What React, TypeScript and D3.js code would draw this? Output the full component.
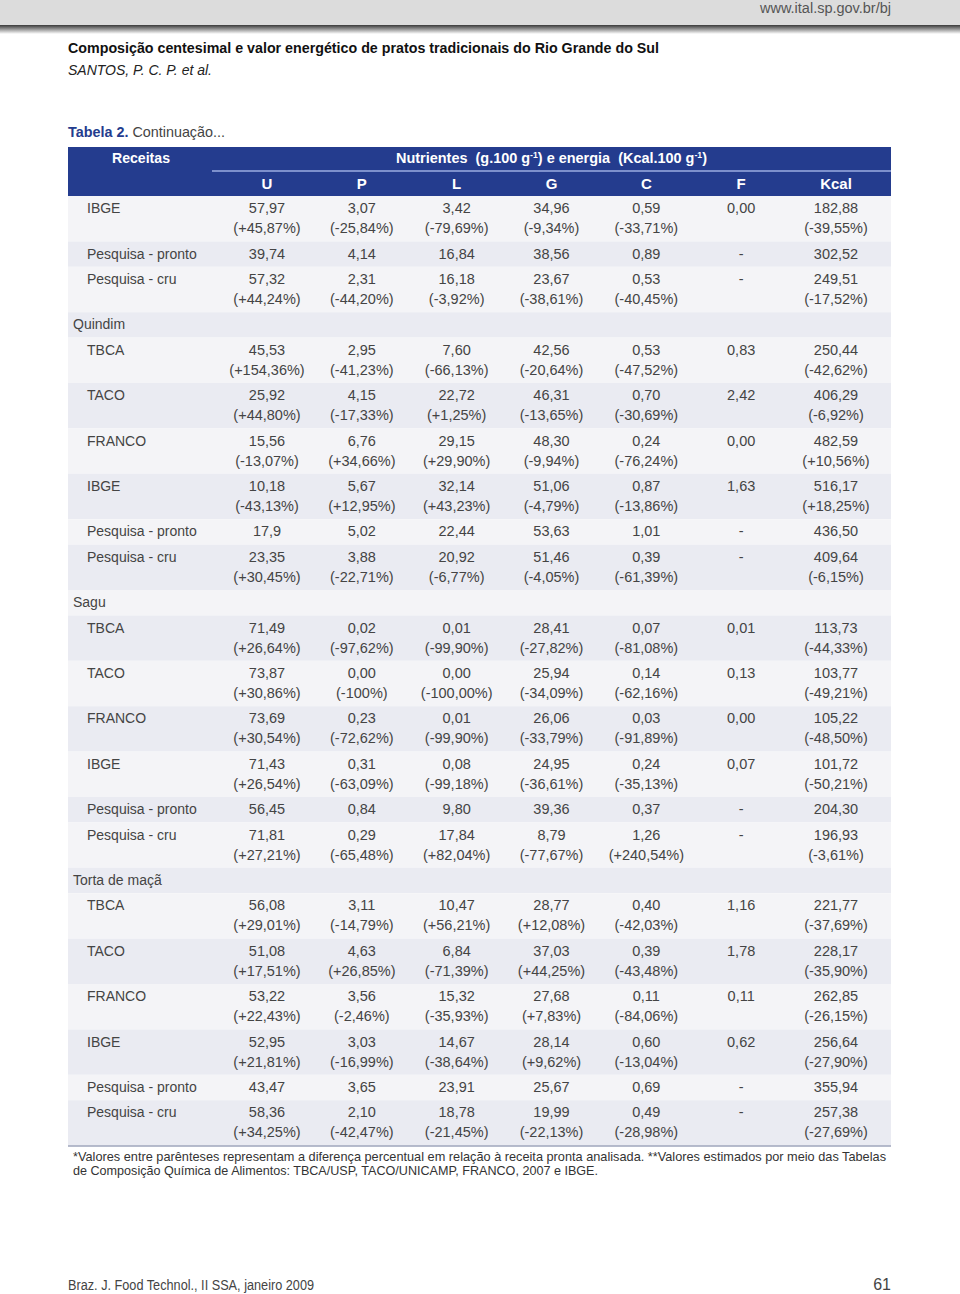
import { useEffect, useRef } from 'react';
import * as d3 from 'd3';

// column headers
const columns = ['U', 'P', 'L', 'G', 'C', 'F', 'Kcal'];

// row labels, group flag (recipe name) and values
const rowLabels = [
  'IBGE', 'Pesquisa - pronto', 'Pesquisa - cru',
  'Quindim', 'TBCA', 'TACO', 'FRANCO', 'IBGE', 'Pesquisa - pronto', 'Pesquisa - cru',
  'Sagu', 'TBCA', 'TACO', 'FRANCO', 'IBGE', 'Pesquisa - pronto', 'Pesquisa - cru',
  'Torta de maçã', 'TBCA', 'TACO', 'FRANCO', 'IBGE', 'Pesquisa - pronto', 'Pesquisa - cru'
];
const groupRows = ['Quindim', 'Sagu', 'Torta de maçã'];

const values: string[][] = [
  ['57,97', '3,07', '3,42', '34,96', '0,59', '0,00', '182,88'],
  ['39,74', '4,14', '16,84', '38,56', '0,89', '-', '302,52'],
  ['57,32', '2,31', '16,18', '23,67', '0,53', '-', '249,51'],
  [],
  ['45,53', '2,95', '7,60', '42,56', '0,53', '0,83', '250,44'],
  ['25,92', '4,15', '22,72', '46,31', '0,70', '2,42', '406,29'],
  ['15,56', '6,76', '29,15', '48,30', '0,24', '0,00', '482,59'],
  ['10,18', '5,67', '32,14', '51,06', '0,87', '1,63', '516,17'],
  ['17,9', '5,02', '22,44', '53,63', '1,01', '-', '436,50'],
  ['23,35', '3,88', '20,92', '51,46', '0,39', '-', '409,64'],
  [],
  ['71,49', '0,02', '0,01', '28,41', '0,07', '0,01', '113,73'],
  ['73,87', '0,00', '0,00', '25,94', '0,14', '0,13', '103,77'],
  ['73,69', '0,23', '0,01', '26,06', '0,03', '0,00', '105,22'],
  ['71,43', '0,31', '0,08', '24,95', '0,24', '0,07', '101,72'],
  ['56,45', '0,84', '9,80', '39,36', '0,37', '-', '204,30'],
  ['71,81', '0,29', '17,84', '8,79', '1,26', '-', '196,93'],
  [],
  ['56,08', '3,11', '10,47', '28,77', '0,40', '1,16', '221,77'],
  ['51,08', '4,63', '6,84', '37,03', '0,39', '1,78', '228,17'],
  ['53,22', '3,56', '15,32', '27,68', '0,11', '0,11', '262,85'],
  ['52,95', '3,03', '14,67', '28,14', '0,60', '0,62', '256,64'],
  ['43,47', '3,65', '23,91', '25,67', '0,69', '-', '355,94'],
  ['58,36', '2,10', '18,78', '19,99', '0,49', '-', '257,38']
];

// percentage difference vs. the analysed ready recipe
const percents: string[][] = [
  ['(+45,87%)', '(-25,84%)', '(-79,69%)', '(-9,34%)', '(-33,71%)', '', '(-39,55%)'],
  [],
  ['(+44,24%)', '(-44,20%)', '(-3,92%)', '(-38,61%)', '(-40,45%)', '', '(-17,52%)'],
  [],
  ['(+154,36%)', '(-41,23%)', '(-66,13%)', '(-20,64%)', '(-47,52%)', '', '(-42,62%)'],
  ['(+44,80%)', '(-17,33%)', '(+1,25%)', '(-13,65%)', '(-30,69%)', '', '(-6,92%)'],
  ['(-13,07%)', '(+34,66%)', '(+29,90%)', '(-9,94%)', '(-76,24%)', '', '(+10,56%)'],
  ['(-43,13%)', '(+12,95%)', '(+43,23%)', '(-4,79%)', '(-13,86%)', '', '(+18,25%)'],
  [],
  ['(+30,45%)', '(-22,71%)', '(-6,77%)', '(-4,05%)', '(-61,39%)', '', '(-6,15%)'],
  [],
  ['(+26,64%)', '(-97,62%)', '(-99,90%)', '(-27,82%)', '(-81,08%)', '', '(-44,33%)'],
  ['(+30,86%)', '(-100%)', '(-100,00%)', '(-34,09%)', '(-62,16%)', '', '(-49,21%)'],
  ['(+30,54%)', '(-72,62%)', '(-99,90%)', '(-33,79%)', '(-91,89%)', '', '(-48,50%)'],
  ['(+26,54%)', '(-63,09%)', '(-99,18%)', '(-36,61%)', '(-35,13%)', '', '(-50,21%)'],
  [],
  ['(+27,21%)', '(-65,48%)', '(+82,04%)', '(-77,67%)', '(+240,54%)', '', '(-3,61%)'],
  [],
  ['(+29,01%)', '(-14,79%)', '(+56,21%)', '(+12,08%)', '(-42,03%)', '', '(-37,69%)'],
  ['(+17,51%)', '(+26,85%)', '(-71,39%)', '(+44,25%)', '(-43,48%)', '', '(-35,90%)'],
  ['(+22,43%)', '(-2,46%)', '(-35,93%)', '(+7,83%)', '(-84,06%)', '', '(-26,15%)'],
  ['(+21,81%)', '(-16,99%)', '(-38,64%)', '(+9,62%)', '(-13,04%)', '', '(-27,90%)'],
  [],
  ['(+34,25%)', '(-42,47%)', '(-21,45%)', '(-22,13%)', '(-28,98%)', '', '(-27,69%)']
];

const footnoteLines = [
  '*Valores entre parênteses representam a diferença percentual em relação à receita pronta analisada. **Valores estimados por meio das Tabelas',
  'de Composição Química de Alimentos: TBCA/USP, TACO/UNICAMP, FRANCO, 2007 e IBGE.'
];

const App = () => {
  const ref = useRef<SVGSVGElement>(null);

  useEffect(() => {
    document.body.style.margin = '0';
    const svg = d3.select(ref.current);
    svg.selectAll('*').remove();

    const W = 960;
    const H = 1294;
    const tableLeft = 68;
    const tableRight = 891;
    const headerTop = 147;
    const headerMid = 171;
    const headerBottom = 196;
    const singleH = 25.4;
    const doubleH = 45.4;

    const font = '"Liberation Sans", Arial, sans-serif';
    const blue = '#243c8e';

    // condensed text: squeeze Liberation Sans to the width seen in the reference
    const squeezed = (tx: number, ty: number, t: string, len: number, size: number, opts: any = {}) =>
      svg.append('text')
        .attr('x', tx).attr('y', ty)
        .attr('text-anchor', opts.anchor || 'start')
        .attr('textLength', len)
        .attr('lengthAdjust', 'spacingAndGlyphs')
        .style('font-family', font)
        .style('font-size', `${size}px`)
        .style('font-weight', opts.weight || 'normal')
        .style('font-style', opts.italic ? 'italic' : 'normal')
        .style('fill', opts.fill || '#444')
        .text(t);

    svg.append('rect').attr('width', W).attr('height', H).attr('fill', '#fff');

    // top banner with shadow
    const defs = svg.append('defs');
    const grad = defs.append('linearGradient')
      .attr('id', 'shadow').attr('x1', 0).attr('x2', 0).attr('y1', 0).attr('y2', 1);
    grad.append('stop').attr('offset', '0%').attr('stop-color', '#3a3a3a');
    grad.append('stop').attr('offset', '100%').attr('stop-color', '#ffffff');
    svg.append('rect').attr('x', 0).attr('y', 0).attr('width', W).attr('height', 25).attr('fill', '#dcdcdc');
    svg.append('rect').attr('x', 0).attr('y', 25).attr('width', W).attr('height', 9).attr('fill', 'url(#shadow)');
    squeezed(760, 13, 'www.ital.sp.gov.br/bj', 131, 14, { fill: '#555' });

    // titles
    squeezed(tableLeft, 53, 'Composição centesimal e valor energético de pratos tradicionais do Rio Grande do Sul',
      591, 15, { weight: 'bold', fill: '#111' });
    squeezed(tableLeft, 75, 'SANTOS, P. C. P. et al.', 144, 14.5, { italic: true, fill: '#222' });

    const cap = svg.append('text')
      .attr('x', tableLeft).attr('y', 137)
      .attr('textLength', 157).attr('lengthAdjust', 'spacingAndGlyphs')
      .style('font-family', font).style('font-size', '15px');
    cap.append('tspan').style('font-weight', 'bold').style('fill', blue).text('Tabela 2.');
    cap.append('tspan').style('fill', '#444').text(' Continuação...');

    // column scale
    const x = d3.scalePoint<string>().domain(columns).range([267, 836]);

    // header
    svg.append('rect')
      .attr('x', tableLeft).attr('y', headerTop)
      .attr('width', tableRight - tableLeft).attr('height', headerBottom - headerTop)
      .attr('fill', blue);
    svg.append('line')
      .attr('x1', 212).attr('x2', tableRight)
      .attr('y1', headerMid).attr('y2', headerMid)
      .attr('stroke', '#7d90cc').attr('stroke-width', 2);

    squeezed(141, 163, 'Receitas', 58, 15, { anchor: 'middle', weight: 'bold', fill: '#fff' });

    const nut = svg.append('text')
      .attr('x', 551.5).attr('y', 163).attr('text-anchor', 'middle')
      .attr('textLength', 311).attr('lengthAdjust', 'spacingAndGlyphs')
      .style('white-space', 'pre')
      .style('font-family', font).style('font-size', '15px').style('font-weight', 'bold').style('fill', '#fff');
    nut.append('tspan').text('Nutrientes  (g.100 g');
    nut.append('tspan').attr('dy', -5).style('font-size', '9px').text('-1');
    nut.append('tspan').attr('dy', 5).text(') e energia  (Kcal.100 g');
    nut.append('tspan').attr('dy', -5).style('font-size', '9px').text('-1');
    nut.append('tspan').attr('dy', 5).text(')');

    columns.forEach(c => {
      svg.append('text')
        .attr('x', x(c)!).attr('y', 188.5).attr('text-anchor', 'middle')
        .style('font-family', font).style('font-size', '15px').style('font-weight', 'bold').style('fill', '#fff')
        .text(c);
    });

    // rows
    let y = headerBottom;
    rowLabels.forEach((label, i) => {
      const h = percents[i].length ? doubleH : singleH;
      const g = svg.append('g').attr('transform', `translate(0,${y})`);
      g.append('rect')
        .attr('x', tableLeft).attr('y', 0)
        .attr('width', tableRight - tableLeft).attr('height', h)
        .attr('fill', i % 2 === 0 ? '#f4f4f7' : '#eaebf2');

      const isGroup = groupRows.includes(label);
      g.append('text')
        .attr('x', isGroup ? 73 : 87).attr('y', 17.3)
        .style('font-family', font).style('font-size', '14px').style('fill', '#444')
        .text(label);

      values[i].forEach((v, j) => {
        g.append('text')
          .attr('x', x(columns[j])!).attr('y', 17.3)
          .attr('text-anchor', 'middle')
          .style('font-family', font).style('font-size', '14.5px').style('fill', '#444')
          .text(v);
      });
      percents[i].forEach((p, j) => {
        if (!p) return;
        g.append('text')
          .attr('x', x(columns[j])!).attr('y', 37.3)
          .attr('text-anchor', 'middle')
          .style('font-family', font).style('font-size', '14.5px').style('fill', '#444')
          .text(p);
      });
      y += h;
    });

    // bottom rule
    svg.append('line')
      .attr('x1', tableLeft).attr('x2', tableRight)
      .attr('y1', y + 0.5).attr('y2', y + 0.5)
      .attr('stroke', '#9ea4bb').attr('stroke-width', 1.5);

    // footnote
    squeezed(73, 1161, footnoteLines[0], 813, 13.5, { fill: '#333' });
    squeezed(73, 1174.5, footnoteLines[1], 525, 13.5, { fill: '#333' });

    // footer
    squeezed(tableLeft, 1290, 'Braz. J. Food Technol., II SSA, janeiro 2009', 246, 14);
    svg.append('text')
      .attr('x', tableRight).attr('y', 1290)
      .attr('text-anchor', 'end')
      .style('font-family', font).style('font-size', '16px').style('fill', '#444')
      .text('61');
  }, []);

  return <svg ref={ref} width={960} height={1294} style={{ display: 'block' }} />;
};

export default App;
